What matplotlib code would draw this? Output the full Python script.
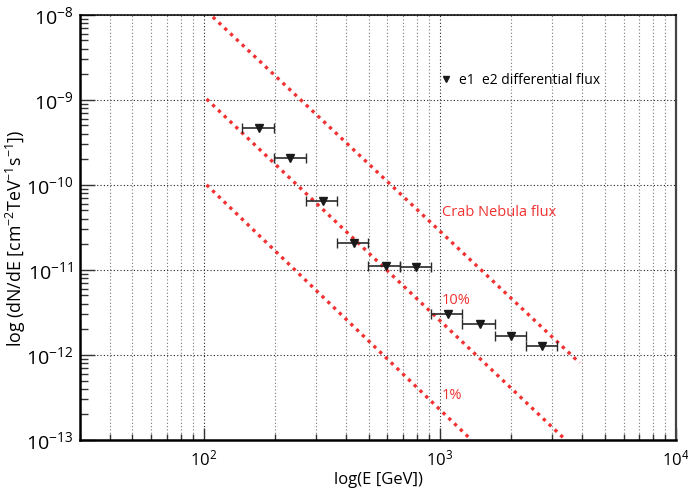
import numpy as np
import matplotlib
matplotlib.use("Agg")
import matplotlib.pyplot as plt
from matplotlib.lines import Line2D
from matplotlib.ticker import LogLocator

plt.rcParams['font.family'] = ['Open Sans', 'DejaVu Sans']
plt.rcParams['mathtext.fontset'] = 'custom'
plt.rcParams['mathtext.rm'] = 'Open Sans'
plt.rcParams['mathtext.it'] = 'Open Sans:italic'
plt.rcParams['mathtext.default'] = 'regular'

# measured spectrum points (GeV, cm^-2 TeV^-1 s^-1)
energy = np.array([172, 233, 319, 433, 590, 797, 1084, 1477, 2011, 2720])
e_lo = np.array([146, 198, 271, 368, 499, 677, 916, 1247, 1709, 2312])
e_hi = np.array([198, 271, 368, 499, 677, 916, 1247, 1709, 2312, 3148])
flux = np.array([4.69e-10, 2.08e-10, 6.43e-11, 2.05e-11, 1.11e-11,
                 1.08e-11, 2.99e-12, 2.34e-12, 1.69e-12, 1.28e-12])

# reference flux lines (end points)
crab_E = [109.5, 3913]
crab_F = [9.4e-9, 8.05e-13]
ten_E = [103, 3412]
ten_F = [1.02e-9, 1.0e-13]
one_E = [103, 1362]
one_F = [1.0e-10, 1.0e-13]

red = '#f03232'

fig = plt.figure(figsize=(6.88, 4.94), dpi=100)
ax = fig.add_axes([80/688, 54/494, 596/688, 425.3/494])
ax.set_xscale('log')
ax.set_yscale('log')
ax.set_xlim(30, 1e4)
ax.set_ylim(1e-13, 1e-8)

ax.xaxis.set_minor_locator(LogLocator(base=10, subs=np.arange(2, 10)))
ax.yaxis.set_minor_locator(LogLocator(base=10, subs=np.arange(2, 10)))

ax.grid(which='major', axis='both', linestyle=(0, (1, 2)), color='#222222', lw=0.8)
ax.grid(which='minor', axis='x', linestyle=(0, (1, 2)), color='#777777', lw=0.8)

dots = (0, (1, 1.4))
for xs, ys in [(crab_E, crab_F), (ten_E, ten_F), (one_E, one_F)]:
    ax.plot(xs, ys, color=red, lw=2.4, linestyle=dots, zorder=3)

ax.errorbar(energy, flux, xerr=[energy - e_lo, e_hi - energy], fmt='v',
            color='#1a1a1a', ecolor='#2a2a2a', ms=6.3, elinewidth=1.2,
            capsize=3.5, capthick=1.0, zorder=4)

ax.text(1020, 4.77e-11, 'Crab Nebula flux', color=red, fontsize=10.5,
        ha='left', va='center')
ax.text(1020, 4.4e-12, '10%', color=red, fontsize=10.5, ha='left', va='center')
ax.text(1020, 3.36e-13, '1%', color=red, fontsize=10.5, ha='left', va='center')

handle = Line2D([], [], marker='v', color='#1a1a1a', ls='none', ms=5)
ax.legend([handle], ['e1  e2 differential flux'], frameon=False,
          loc='center left', bbox_to_anchor=(0.582, 0.845), fontsize=10,
          handlelength=1.0, handletextpad=0.4)

ax.tick_params(which='both', direction='in', top=False, right=False,
               color='#333333', width=1.0)
ax.tick_params(axis='x', which='major', length=9, labelsize=12, pad=7)
ax.tick_params(axis='x', which='minor', length=4.5)
ax.tick_params(axis='y', which='major', length=11, labelsize=14, pad=5)
ax.tick_params(axis='y', which='minor', length=6)

ax.spines['left'].set_linewidth(1.8)
ax.spines['bottom'].set_linewidth(1.8)
ax.spines['top'].set_linewidth(1.1)
ax.spines['right'].set_linewidth(1.6)
ax.spines['right'].set_color('#444444')

ax.set_xlabel('log(E [GeV])', fontsize=12, labelpad=2)
ax.set_ylabel(r'log (dN/dE [cm$^{-2}$TeV$^{-1}$s$^{-1}$])', fontsize=12.8)
ax.yaxis.set_label_coords(-0.087, 0.473)

fig.savefig('out.png', dpi=100)
